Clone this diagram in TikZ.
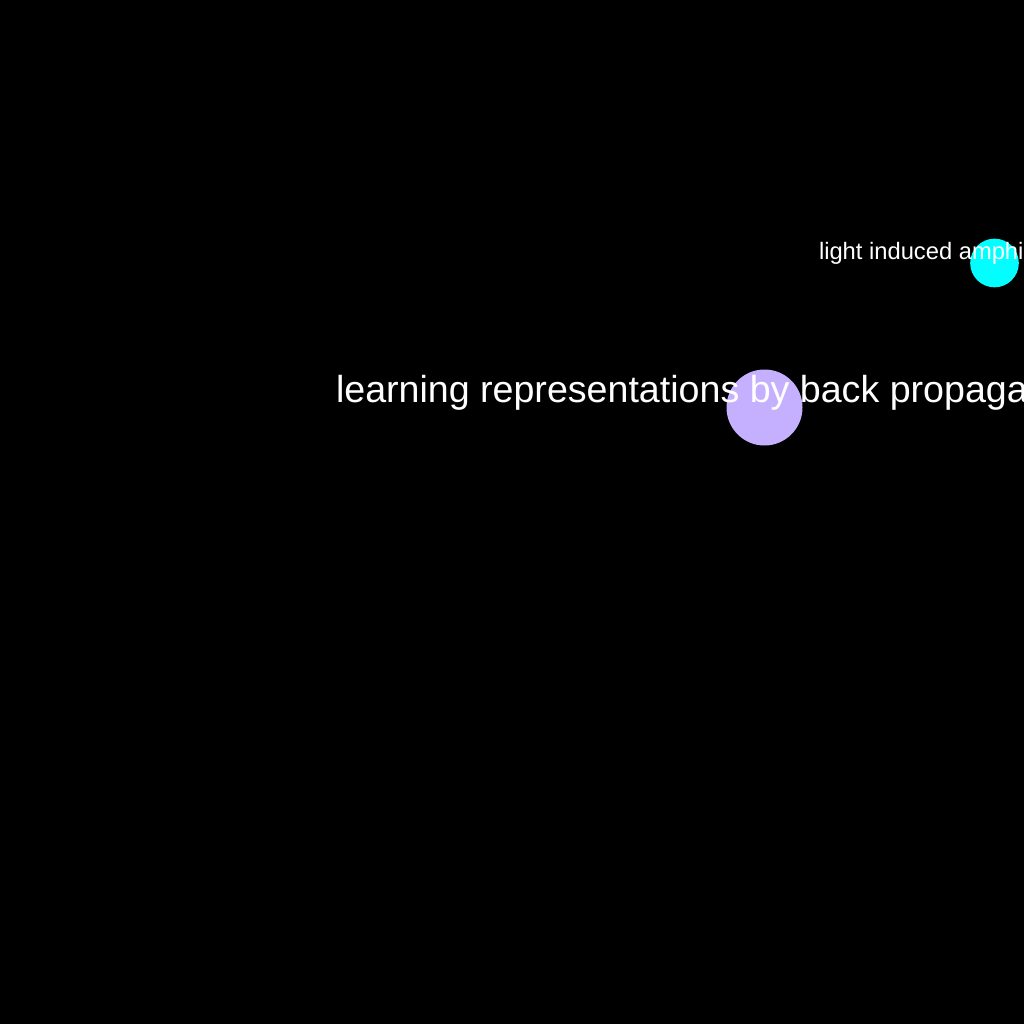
\documentclass[tikz,border=0pt]{standalone}
\usepackage{fontspec}
\setmainfont{Liberation Sans}
\definecolor{lav}{RGB}{197,176,255}
\definecolor{cyn}{RGB}{0,255,255}
\tikzset{
  dot/.style={circle,inner sep=0pt,outer sep=0pt,draw=none},
  lbl/.style={text=white,inner sep=0pt,outer sep=0pt,anchor=base west}
}
\begin{document}
\begin{tikzpicture}[x=0.75pt,y=-0.75pt]
\useasboundingbox (0,0) rectangle (1024,1024);
\fill[black] (0,0) rectangle (1024,1024);
\clip (0,0) rectangle (1024,1024);
\node[dot,fill=lav,minimum size=57pt] (bp) at (764.5,407.5) {};
\node[dot,fill=cyn,minimum size=36.5pt] (li) at (994.5,263) {};
\node[lbl,font=\fontsize{28.2pt}{33pt}\selectfont] (bpl) at (336,402.5) {learning representations by back propagating errors};
\node[lbl,font=\fontsize{17.8pt}{22pt}\selectfont] (lil) at (819,259) {light induced amphiphilic};
\end{tikzpicture}
\end{document}
